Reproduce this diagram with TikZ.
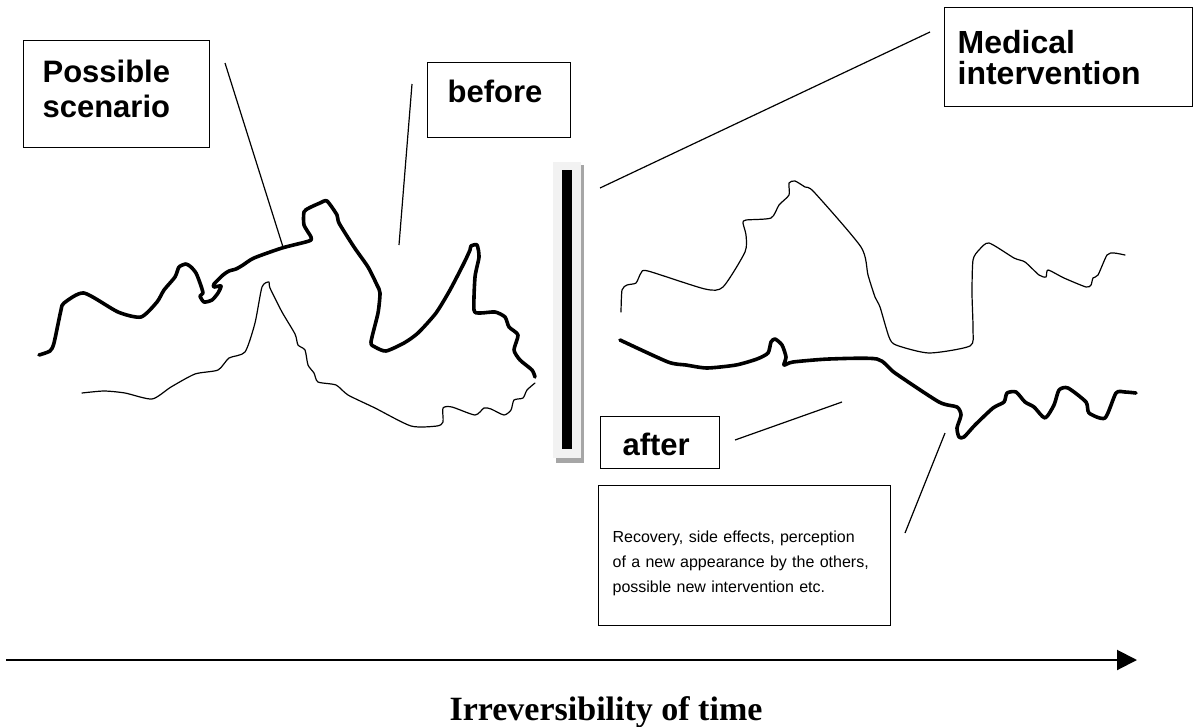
\documentclass[tikz,border=0pt]{standalone}
\usepackage{fontspec}
\usepackage{tikz}
\usetikzlibrary{arrows.meta}
\newfontfamily\boxfont{Liberation Sans}
\newfontfamily\timefont{Liberation Serif}

\tikzset{
  labelbox/.style={draw, line width=1.2pt, anchor=north west, align=left, inner ysep=0pt},
  bigtext/.style={font=\boxfont\bfseries\fontsize{31}{35}\selectfont},
  smalltext/.style={font=\boxfont\fontsize{16}{25}\selectfont},
  thickpath/.style={line width=3.6pt, line cap=round, line join=round},
  thinpath/.style={line width=1.2pt, line cap=round, line join=round},
  pointer/.style={line width=1.2pt}
}

\begin{document}
\begin{tikzpicture}[x=1pt, y=-1pt]
  \useasboundingbox (0,0) rectangle (1194,726);

  % Draw text boxes.
  \node [labelbox, bigtext, inner xsep=19pt, text width=148pt,
         text height=42pt, text depth=65pt] (scenario) at (23,40) {Possible\\scenario};
  \node [labelbox, bigtext, inner xsep=20pt, text width=103pt,
         text height=40pt, text depth=35pt] (before) at (427,62) {before};
  \node [labelbox, bigtext, font=\boxfont\bfseries\fontsize{32}{31}\selectfont,
         inner xsep=13pt, text width=222pt,
         text height=46pt, text depth=53pt] (medical) at (944,7) {Medical\\intervention};
  \node [labelbox, bigtext, inner xsep=22pt, text width=75pt,
         text height=39pt, text depth=13pt] (after) at (600,416) {after};
  \node [labelbox, smalltext, inner xsep=14pt, text width=264pt,
         text height=57pt, text depth=83pt] (recovery) at (598,485)
        {Recovery, side effects, perception\\of a new appearance by the others,\\possible new intervention etc.};

  % Draw intervention bar.
  \fill [black!35] (556,165) rectangle (584,463);
  \fill [black!5] (553,162) rectangle (581,458);
  \fill (562,170) rectangle (572,449);

  % Draw scenarios before the intervention.
  \draw [thickpath] plot [smooth, tension=0.4] coordinates {
    (39,355) (50,351) (54,343) (61,310) (64,303) (84,293) (118,312) (141,317)
    (157,302) (164,290) (175,277) (179,267) (186,264) (191,267) (196,273)
    (200,283) (203,293) (200,296) (204,302) (212,300) (218,293) (221,286)
    (214,287) (214,284) (223,275) (229,271) (236,269) (243,265) (254,258)
    (282,248) (309,241) (311,237) (304,225) (304,212) (309,208) (320,203)
    (327,201) (337,215) (339,223) (354,247) (368,267) (377,285) (380,293)
    (378,313) (371,342) (375,347) (386,351) (404,343) (418,333) (436,313)
    (450,290) (464,263) (470,250) (471,246) (477,245) (479,257) (475,277)
    (474,310) (480,313) (495,312) (505,317) (509,327) (518,335) (514,350)
    (520,360) (532,370) (535,377)};
  \draw [thinpath] plot [smooth, tension=0.4] coordinates {
    (82,393) (104,391) (125,393) (152,399) (171,387) (195,374) (218,370)
    (229,358) (245,352) (255,323) (262,287) (269,282) (270,288) (282,312)
    (295,334) (298,345) (305,350) (308,365) (314,373) (318,382) (336,385)
    (348,395) (375,408) (411,426) (437,426) (443,422) (443,408) (452,407)
    (475,415) (484,408) (491,409) (504,415) (511,410) (514,400) (523,398)
    (527,390) (535,383)};

  % Draw scenarios after the intervention.
  \draw [thinpath] plot [smooth, tension=0.4] coordinates {
    (621,312) (622,290) (627,285) (636,283) (641,273) (648,271) (705,289)
    (723,287) (745,252) (746,235) (743,223) (746,220) (771,218) (779,205)
    (789,195) (789,183) (795,181) (805,187) (814,192) (861,247) (868,275)
    (875,297) (880,307) (889,337) (896,345) (929,353) (970,346) (973,330)
    (972,293) (973,260) (979,250) (989,243) (1014,258) (1025,262) (1039,275)
    (1046,277) (1048,270) (1064,278) (1086,287) (1091,285) (1093,278)
    (1098,275) (1107,255) (1114,253) (1125,255)};
  \draw [thickpath] plot [smooth, tension=0.4] coordinates {
    (620,340) (668,362) (686,365) (707,368) (736,365) (757,359) (768,353)
    (771,342) (775,339) (782,345) (786,357) (784,365) (793,362) (829,359)
    (877,359) (895,373) (939,402) (957,407) (961,415) (957,428) (959,437)
    (964,437) (975,425) (993,408) (1004,402) (1007,393) (1016,392) (1025,402)
    (1034,407) (1045,418) (1054,405) (1059,390) (1068,388) (1086,402)
    (1089,413) (1105,418) (1116,393) (1125,392) (1136,393)};

  % Draw pointers from the boxes.
  \coordinate (scenarioFrom) at (225,63);
  \coordinate (scenarioTo) at (283,247);
  \coordinate (beforeFrom) at (412,84);
  \coordinate (beforeTo) at (399,245);
  \coordinate (medicalFrom) at (930,32);
  \coordinate (medicalTo) at (600,188);
  \coordinate (afterFrom) at (735,440);
  \coordinate (afterTo) at (842,402);
  \coordinate (recoveryFrom) at (905,533);
  \coordinate (recoveryTo) at (945,433);
  \draw [pointer] (scenarioFrom) -- (scenarioTo);
  \draw [pointer] (beforeFrom) -- (beforeTo);
  \draw [pointer] (medicalFrom) -- (medicalTo);
  \draw [pointer] (afterFrom) -- (afterTo);
  \draw [pointer] (recoveryFrom) -- (recoveryTo);

  % Draw time axis.
  \coordinate (timeStart) at (6,660);
  \coordinate (timeEnd) at (1137,660);
  \draw [line width=2pt, arrows={-Triangle[length=20pt, width=20pt]}] (timeStart) -- (timeEnd);
  \node [font=\timefont\bfseries\fontsize{34}{38}\selectfont, anchor=base] (timelabel)
        at (606,720) {Irreversibility of time};
\end{tikzpicture}
\end{document}
